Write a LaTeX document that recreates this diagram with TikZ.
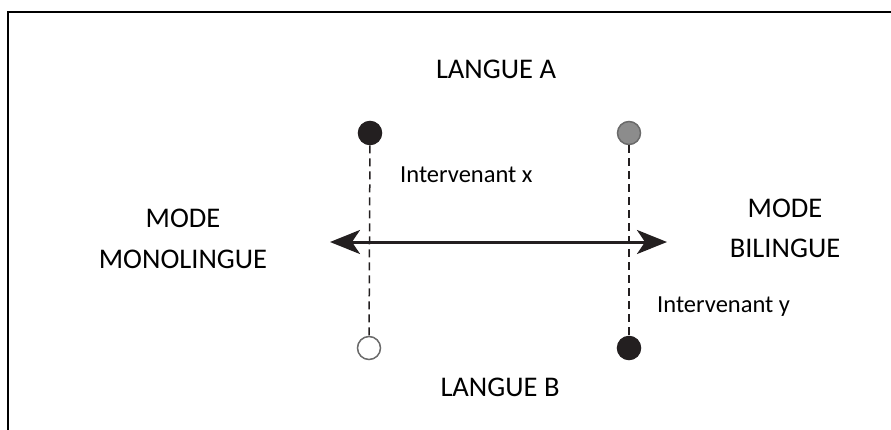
\documentclass[tikz,border=0pt]{standalone}
\usepackage{fontspec}
\setmainfont{Carlito}
\usetikzlibrary{positioning,arrows.meta}

\definecolor{dotblack}{HTML}{231F20}
\definecolor{dotgrey}{HTML}{8C8C8C}
\definecolor{dotrim}{HTML}{6A6A6A}

\tikzset{
  bigtext/.style={font=\fontsize{28.5}{34}\selectfont, inner sep=0pt, anchor=base},
  smalltext/.style={font=\fontsize{24.5}{30}\selectfont, inner sep=0pt, anchor=base west},
  speaker/.style={circle, minimum size=23pt, inner sep=0pt, line width=1.5pt},
  guide/.style={dash pattern=on 8pt off 5pt, line width=1.5pt, dotblack},
}

\begin{document}
\begin{tikzpicture}[x=1pt,y=-1pt]
  \clip (0,0) rectangle (891,429);
  \draw[line width=2.6pt] (8,440) -- (8,12) -- (900,12);

  % the two speakers
  \node[speaker, draw=dotblack, fill=dotblack] (xa) at (370,133) {};
  \node[speaker, fill=white, draw=dotrim] (xb) at (369,348) {};
  \node[speaker, draw=dotrim, fill=dotgrey] (ya) at (629,133) {};
  \node[speaker, draw=dotblack, fill=dotblack] (yb) at (629,348) {};
  \draw[guide] (xa) -- (xb);
  \draw[guide] (ya) -- (yb);

  % the continuum
  \coordinate (mono) at (330,242);
  \coordinate (bil) at (667,242);
  \draw[line width=3pt, dotblack, {Stealth[length=30pt,width=24pt,inset=8pt]}-{Stealth[length=30pt,width=24pt,inset=8pt]}] (mono) -- (bil);

  \node[bigtext] (langa) at (496,78) {LANGUE A};
  \node[bigtext] (langb) at (500,396) {LANGUE B};

  \node[bigtext] (modem) at (183,227) {MODE};
  \node[bigtext] (monol) at ([yshift=-41pt]modem.base) {MONOLINGUE};
  \node[bigtext] (modeb) at (785,217) {MODE};
  \node[bigtext] (bilin) at ([yshift=-40pt]modeb.base) {BILINGUE};

  \node[smalltext] (intx) at (400,182) {Intervenant x};
  \node[smalltext] (inty) at (657,312) {Intervenant y};
\end{tikzpicture}
\end{document}
